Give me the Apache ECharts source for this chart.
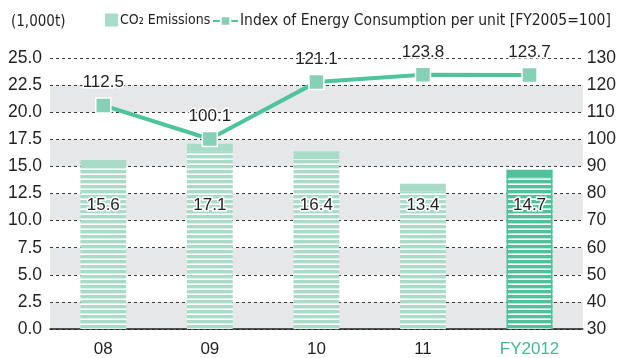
<!DOCTYPE html>
<html>
<head>
<meta charset="utf-8">
<style>
  html, body { margin: 0; padding: 0; background: #fff; }
  #chart { width: 619px; height: 358px; }
</style>
<script src="https://cdn.jsdelivr.net/npm/echarts@6/dist/echarts.min.js"></script>
</head>
<body>
<div id="chart"></div>
<script>
// Fiscal years on the category axis
const years = ['08', '09', '10', '11', 'FY2012'];
// CO2 emissions, thousand tonnes
const co2Emissions = [15.6, 17.1, 16.4, 13.4, 14.7];
// Energy consumption per unit, FY2005 = 100
const energyIndex = [112.5, 100.1, 121.1, 123.8, 123.7];

const FONT = '"Liberation Sans", Arial, Helvetica, sans-serif';
const NARROW = '"DejaVu Sans Condensed", "Liberation Sans Narrow", "Liberation Sans", sans-serif';
const TEXT = '#231f20';
const LIGHT = '#a9dcc8';
const DARK = '#4fc29c';
const LINE = '#4dc49e';
const MARKER = '#86d0b5';
const BAND = '#e6e7e8';

// Horizontal stripe pattern used to fill the bars
function stripes(color) {
  const c = document.createElement('canvas');
  c.width = 8; c.height = 5;
  const g = c.getContext('2d');
  g.fillStyle = color;
  g.fillRect(0, 0, 8, 5);
  g.fillStyle = '#ffffff';
  g.fillRect(0, 3.4, 8, 1.6);
  return { image: c, repeat: 'repeat' };
}
const lightStripes = stripes(LIGHT);
const darkStripes = stripes(DARK);

function renderBar(params, api) {
  const i = api.value(0);
  const v = api.value(1);
  const top = api.coord([i, v]);
  const base = api.coord([i, 0]);
  const bw = api.size([1, 0])[0] * 0.43;
  const x = top[0] - bw / 2;
  const cap = 8;
  const latest = params.dataIndex === years.length - 1;
  const solid = latest ? DARK : LIGHT;
  const children = [
    { type: 'rect', shape: { x: x, y: top[1] + cap, width: bw, height: base[1] - top[1] - cap },
      style: { fill: latest ? darkStripes : lightStripes } },
    { type: 'rect', shape: { x: x, y: top[1], width: bw, height: cap }, style: { fill: solid } }
  ];
  if (latest) {
    children.push(
      { type: 'rect', shape: { x: x, y: top[1], width: 1.5, height: base[1] - top[1] }, style: { fill: DARK } },
      { type: 'rect', shape: { x: x + bw - 1.5, y: top[1], width: 1.5, height: base[1] - top[1] }, style: { fill: DARK } }
    );
  }
  children.push({
    type: 'text', z2: 10,
    style: {
      x: top[0], y: base[1] - 124, text: v.toFixed(1),
      align: 'center', verticalAlign: 'middle',
      font: '17px ' + FONT, fill: TEXT, stroke: '#fff', lineWidth: 3
    }
  });
  return { type: 'group', children: children };
}

const chart = echarts.init(document.getElementById('chart'), null, { renderer: 'canvas' });
chart.setOption({
  animation: false,
  backgroundColor: '#fff',
  title: {
    text: '(1,000t)', left: 6, top: 10,
    textStyle: { fontFamily: NARROW, fontSize: 15, fontWeight: 'normal', color: TEXT }
  },
  legend: [
    {
      left: 105, top: 13, padding: 0, itemWidth: 13, itemHeight: 13, itemGap: 4,
      data: [{ name: 'CO₂ Emissions', icon: 'rect' }],
      textStyle: { fontFamily: NARROW, fontSize: 14, color: TEXT, padding: [0, 0, 0, -3] }
    },
    {
      left: 212, top: 13, padding: 0, itemWidth: 25, itemHeight: 12,
      data: ['Index of Energy Consumption per unit [FY2005=100]'],
      textStyle: { fontFamily: NARROW, fontSize: 15.5, color: TEXT, padding: [0, 0, 0, -3] }
    }
  ],
  grid: { left: 50, right: 31, top: 58, bottom: 26 },
  xAxis: {
    type: 'category', data: years,
    axisLine: { lineStyle: { color: '#231f20', width: 1.5 } },
    axisTick: { show: false },
    axisLabel: {
      margin: 12, fontFamily: FONT, fontSize: 17,
      color: function (v) { return v === 'FY2012' ? '#3dbd93' : TEXT; }
    }
  },
  yAxis: [
    {
      type: 'value', min: 0, max: 25, interval: 2.5,
      axisLine: { show: false }, axisTick: { show: false },
      axisLabel: { margin: 8, fontFamily: FONT, fontSize: 17.5, color: TEXT,
        formatter: function (v) { return v.toFixed(1); } },
      splitLine: { lineStyle: { color: '#3a3a3a', type: [3, 3], width: 1 } },
      splitArea: { show: true, areaStyle: { color: [BAND, '#ffffff'] } }
    },
    {
      type: 'value', min: 30, max: 130, interval: 10,
      axisLine: { show: false }, axisTick: { show: false },
      axisLabel: { margin: 4, fontFamily: FONT, fontSize: 17.5, color: TEXT },
      splitLine: { show: false }
    }
  ],
  series: [
    {
      name: 'CO₂ Emissions', type: 'custom', yAxisIndex: 0,
      itemStyle: { color: LIGHT },
      encode: { x: 0, y: 1 },
      data: co2Emissions.map(function (v, i) { return [i, v]; }),
      renderItem: renderBar, z: 2
    },
    {
      name: 'Index of Energy Consumption per unit [FY2005=100]', type: 'line', yAxisIndex: 1,
      data: energyIndex, z: 5,
      lineStyle: { color: LINE, width: 4 },
      itemStyle: { color: MARKER, borderColor: '#fff', borderWidth: 1.5 },
      symbol: 'rect', symbolSize: 15, showAllSymbol: true,
      label: {
        show: true, position: 'top', distance: 6,
        fontFamily: FONT, fontSize: 17, color: TEXT,
        textBorderColor: '#fff', textBorderWidth: 3,
        formatter: function (p) { return p.value.toFixed(1); }
      }
    }
  ]
});
</script>
</body>
</html>
